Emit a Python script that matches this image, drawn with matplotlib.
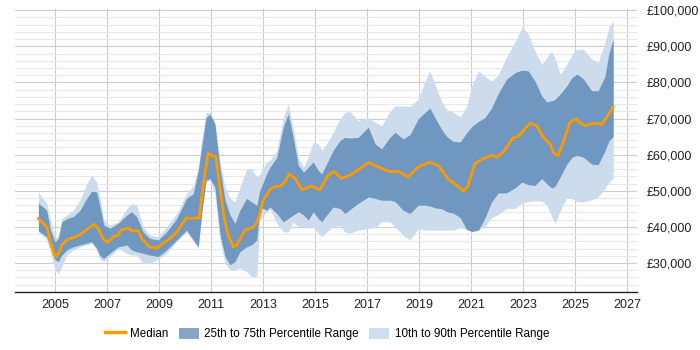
import numpy as np
import matplotlib.pyplot as plt
from matplotlib.patches import Patch
from matplotlib.lines import Line2D
from matplotlib.ticker import FuncFormatter, MultipleLocator

# ============================================================
# DATA
# ============================================================

band_years = [
    2004.35, 2004.67, 2004.82, 2004.99, 2005.12, 2005.25, 2005.44, 2005.69,
    2005.95, 2006.21, 2006.40, 2006.59, 2006.72, 2006.87, 2007.10, 2007.42,
    2007.75, 2007.94, 2008.13, 2008.38, 2008.64, 2008.96, 2009.28, 2009.67,
    2010.05, 2010.31, 2010.50, 2010.63, 2010.80, 2010.95, 2011.14, 2011.33,
    2011.53, 2011.72, 2011.91, 2012.10, 2012.36, 2012.55, 2012.75, 2012.87,
    2013.13, 2013.26, 2013.52, 2013.77, 2013.96, 2014.15, 2014.35, 2014.55,
    2014.73, 2014.92, 2015.12, 2015.25, 2015.44, 2015.69, 2015.95, 2016.14,
    2016.33, 2016.65, 2017.04, 2017.30, 2017.55, 2017.87, 2018.07, 2018.38,
    2018.64, 2018.96, 2019.22, 2019.41, 2019.60, 2019.87, 2020.06, 2020.31,
    2020.57, 2020.82, 2021.02, 2021.28, 2021.53, 2021.78, 2022.04, 2022.36,
    2022.68, 2022.95, 2023.19, 2023.45, 2023.71, 2023.90, 2024.09, 2024.22,
    2024.42, 2024.67, 2024.88, 2025.07, 2025.31, 2025.63, 2025.88, 2026.14,
    2026.30, 2026.46,
]

p90 = [
    49700, 46500, 41900, 36800, 37700, 42300, 43300, 44600,
    47400, 52000, 54300, 52400, 48300, 41900, 40500, 41400,
    45100, 46500, 46000, 40000, 37700, 37300, 40000, 43700,
    49200, 51500, 56500, 63900, 71700, 71700, 69000, 58400,
    51000, 47900, 46900, 51000, 56100, 56100, 53800, 54700,
    58000, 58400, 61200, 70300, 74000, 67600, 59300, 56500,
    59300, 63500, 63000, 61200, 63000, 66200, 69900, 71700,
    72000, 69400, 70300, 69000, 68000, 72000, 73500, 73500,
    73300, 75400, 80400, 83200, 79700, 74500, 72400, 71800,
    70500, 73300, 79000, 83200, 81600, 80400, 82000, 87100,
    91200, 95300, 93500, 88700, 85000, 86900, 88700, 86600,
    82300, 85000, 87800, 89200, 89200, 86500, 85500, 91000,
    95400, 97100,
]

p75 = [
    46600, 44600, 39100, 35900, 36800, 41400, 42300, 42800,
    44600, 47900, 49900, 49700, 45500, 40500, 39600, 41000,
    43300, 44200, 42800, 38600, 36800, 36400, 38600, 42300,
    47900, 49200, 55600, 62100, 70300, 71200, 68500, 56500,
    47400, 43300, 41000, 44600, 47900, 46900, 46000, 50100,
    54700, 56500, 59300, 67600, 71300, 64800, 57000, 55200,
    56500, 58000, 55600, 54700, 57500, 61200, 63900, 64800,
    64600, 64800, 67600, 63000, 61600, 64800, 66200, 64400,
    65500, 69900, 71700, 72900, 70300, 66900, 65000, 63700,
    63500, 66000, 67800, 69200, 70300, 72900, 77000, 80900,
    82700, 83400, 83200, 80400, 76300, 74600, 74900, 75300,
    76800, 79000, 81400, 82300, 81000, 77700, 77700, 81600,
    88200, 92000,
]

p25 = [
    38900, 37300, 34100, 30900, 30400, 32200, 33600, 34500,
    35000, 35500, 35900, 34100, 32000, 31300, 32700, 34500,
    35000, 33600, 33100, 32700, 32200, 31800, 33600, 36400,
    39100, 36400, 34500, 43700, 52900, 53400, 51000, 38200,
    31800, 29500, 30400, 33100, 34500, 35000, 36400, 45500,
    44600, 45500, 43700, 41400, 42300, 43300, 44200, 43300,
    41900, 44200, 42300, 41400, 43300, 45500, 45100, 43700,
    44800, 46500, 48300, 47900, 47400, 47400, 47000, 44600,
    43700, 46000, 46000, 45800, 45300, 45000, 44200, 43800,
    42600, 39300, 38700, 39100, 42500, 46900, 49400, 49400,
    50800, 52400, 51700, 51500, 53400, 52000, 50800, 51200,
    53800, 57300, 59300, 59800, 59300, 57400, 57200, 61000,
    63900, 65000,
]

p10 = [
    38600, 36400, 32700, 28100, 27000, 29000, 32200, 33600,
    34500, 35000, 35400, 33600, 31000, 30400, 31800, 34000,
    32700, 32200, 32200, 29900, 29900, 31000, 32700, 35900,
    38600, 36000, 34000, 43200, 52400, 52900, 49200, 36400,
    29900, 28100, 28100, 28600, 27600, 26200, 26200, 41900,
    44200, 45000, 41000, 38600, 38600, 41400, 40000, 40000,
    39600, 40000, 38200, 37300, 38600, 40000, 40500, 38600,
    38200, 39100, 39600, 39800, 41400, 41400, 40000, 37700,
    36400, 39500, 39100, 39100, 39100, 39100, 39100, 39100,
    39800, 39300, 38800, 39300, 40200, 42500, 43500, 45100,
    45100, 46700, 47000, 47200, 47200, 46000, 43000, 41000,
    44400, 48000, 47800, 47000, 46900, 47500, 48300, 50600,
    52400, 53400,
]

median_years = [
    2004.35, 2004.67, 2004.80, 2004.96, 2005.05, 2005.15, 2005.25, 2005.44,
    2005.88, 2006.08, 2006.50, 2006.65, 2006.85, 2007.00, 2007.23, 2007.42,
    2007.52, 2007.81, 2007.95, 2008.20, 2008.32, 2008.62, 2008.90, 2009.09,
    2009.41, 2009.67, 2009.90, 2010.05, 2010.18, 2010.53, 2010.70, 2010.88,
    2011.18, 2011.33, 2011.49, 2011.65, 2011.85, 2011.98, 2012.30, 2012.62,
    2012.80, 2013.00, 2013.26, 2013.45, 2013.65, 2013.83, 2014.00, 2014.22,
    2014.48, 2014.86, 2015.18, 2015.50, 2015.73, 2016.00, 2016.27, 2016.34,
    2017.04, 2017.75, 2018.00, 2018.19, 2018.58, 2018.96, 2019.41, 2019.73,
    2020.12, 2020.44, 2020.69, 2020.85, 2021.14, 2021.40, 2021.78, 2021.98,
    2022.23, 2022.62, 2022.81, 2023.26, 2023.52, 2023.78, 2024.03, 2024.18,
    2024.35, 2024.54, 2024.80, 2025.05, 2025.18, 2025.37, 2025.56, 2025.82,
    2026.01, 2026.20, 2026.46,
]

median = [
    42300, 40000, 36400, 32200, 31900, 33100, 35000, 36400,
    37500, 38600, 40700, 39600, 36600, 35700, 37300, 37700,
    39100, 39700, 38900, 38900, 36800, 34500, 34100, 35200,
    36800, 38500, 41000, 42600, 42300, 42500, 52000, 60400,
    59300, 51000, 42800, 37700, 34500, 35000, 39100, 39900,
    41900, 47400, 50300, 51200, 51200, 52400, 54700, 53400,
    50300, 51300, 50300, 54300, 55400, 53400, 54100, 54300,
    57800, 55600, 55200, 55500, 53800, 56600, 57900, 57000,
    53200, 51500, 50000, 50900, 57500, 58700, 59800, 59300,
    60700, 64700, 65000, 68700, 68000, 64800, 63000, 60400,
    59800, 63500, 69000, 69900, 68800, 68000, 68500, 68700,
    68300, 70200, 73300,
]

year_ticks = list(range(2005, 2028, 2))

# ============================================================
# PLOT
# ============================================================

plt.rcParams["font.family"] = ["Liberation Sans", "DejaVu Sans"]

fig = plt.figure(figsize=(7, 3.5), dpi=100)
ax = fig.add_axes([0.0214, 0.166, 0.888, 0.808])

light = "#cddcec"
dark = "#7097bf"
orange = "#ff9900"

ax.fill_between(band_years, p10, p90, color=light, lw=0, zorder=2)
ax.fill_between(band_years, p25, p75, color=dark, lw=0, zorder=3)
ax.plot(median_years, median, color=orange, lw=2, zorder=4)

ax.set_xlim(2003.45, 2027.36)
ax.set_ylim(22000, 100300)

ax.set_xticks(year_ticks)
ax.yaxis.set_major_locator(MultipleLocator(10000))
ax.yaxis.set_minor_locator(MultipleLocator(2000))
ax.yaxis.set_major_formatter(FuncFormatter(lambda v, p: f"£{v:,.0f}"))

ax.yaxis.tick_right()
ax.tick_params(axis="y", which="both", length=0, pad=7, labelsize=9, colors="#222222")
ax.tick_params(axis="x", length=0, pad=5, labelsize=9, colors="#222222")

ax.grid(axis="y", which="minor", color="#e8e8e8", lw=0.8, zorder=0)
ax.grid(axis="y", which="major", color="#cccccc", lw=0.8, zorder=0)
ax.grid(axis="x", which="major", color="#cccccc", lw=0.8, zorder=0)
ax.set_axisbelow(True)

for side in ["top", "left", "right"]:
    ax.spines[side].set_visible(False)
ax.spines["bottom"].set_color("#222222")
ax.spines["bottom"].set_linewidth(1)

handles = [
    Line2D([0], [0], color=orange, lw=2.5),
    Patch(facecolor="#87a5c7", edgecolor="none"),
    Patch(facecolor="#cfdeee", edgecolor="none"),
]
labels = ["Median", "25th to 75th Percentile Range", "10th to 90th Percentile Range"]
fig.legend(
    handles, labels,
    loc="center", bbox_to_anchor=(0.467, 0.046),
    ncol=3, frameon=False, fontsize=8.4,
    handlelength=1.75, handleheight=1.05, columnspacing=0.85, handletextpad=0.45,
)

fig.savefig("out.png", dpi=100)
